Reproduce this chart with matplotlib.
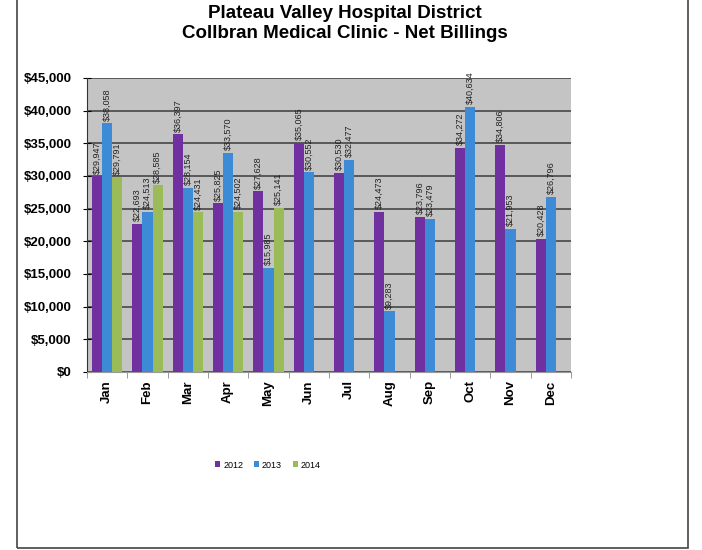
import matplotlib
matplotlib.use("Agg")
import matplotlib.pyplot as plt
from matplotlib.patches import Rectangle
from matplotlib.ticker import FuncFormatter, MultipleLocator
import numpy as np

plt.rcParams["font.family"] = ["Liberation Sans", "DejaVu Sans"]

# chart data
months = ["Jan", "Feb", "Mar", "Apr", "May", "Jun",
          "Jul", "Aug", "Sep", "Oct", "Nov", "Dec"]
years = ["2012", "2013", "2014"]
net_2012 = [29947, 22693, 36397, 25825, 27628, 35065,
            30530, 24473, 23796, 34272, 34806, 20428]
net_2013 = [38058, 24513, 28154, 33570, 15985, 30552,
            32477, 9283, 23479, 40634, 21953, 26796]
net_2014 = [29791, 28585, 24431, 24502, 25141]

colors = ["#7030A0", "#3D8AD6", "#9BBB59"]

fig = plt.figure(figsize=(7.02, 5.5), dpi=100)
ax = fig.add_axes([87 / 702, 1 - 372 / 550, 484 / 702, 294 / 550])
ax.set_facecolor("#C4C4C4")

x = np.arange(len(months))
width = 0.25
series = [net_2012, net_2013, net_2014]
for i, (vals, col, yr) in enumerate(zip(series, colors, years)):
    pos = x[: len(vals)] + (i - 1) * width
    bars = ax.bar(pos, vals, width, color=col, label=yr, zorder=3)
    for b, v in zip(bars, vals):
        ax.text(b.get_x() + b.get_width() / 2, v + 400, f"${v:,}",
                rotation=90, ha="center", va="bottom", fontsize=6.5,
                color="#222222", zorder=4)

ax.set_xlim(-0.5, len(months) - 0.5)
ax.set_ylim(0, 45000)
ax.yaxis.set_major_locator(MultipleLocator(5000))
ax.yaxis.set_major_formatter(FuncFormatter(lambda v, p: f"${v:,.0f}"))
ax.grid(axis="y", color="#505050", linewidth=1.3, zorder=1)
ax.set_axisbelow(True)

ax.set_xticks(x)
ax.set_xticklabels(months, rotation=90, fontsize=9.5, fontweight="bold")
ax.set_xticks(np.arange(len(months) + 1) - 0.5, minor=True)
ax.tick_params(axis="x", which="major", length=0, pad=6)
ax.tick_params(axis="x", which="minor", length=4, color="#888888")
ax.tick_params(axis="y", direction="inout", length=6, labelsize=9.5, pad=8)
for lbl in ax.get_yticklabels():
    lbl.set_fontweight("bold")

for s in ["top", "right"]:
    ax.spines[s].set_visible(False)
ax.spines["bottom"].set_color("#999999")
ax.spines["left"].set_color("#333333")

fig.text(345 / 702, 1 - 13 / 550, "Plateau Valley Hospital District",
         ha="center", va="center", fontsize=13.5, fontweight="bold")
fig.text(345 / 702, 1 - 34 / 550, "Collbran Medical Clinic - Net Billings",
         ha="center", va="center", fontsize=13.5, fontweight="bold")

fig.legend(loc="center", bbox_to_anchor=(268 / 702, 1 - 465 / 550), ncol=3,
           frameon=False, fontsize=6.5, handlelength=0.6, handleheight=0.6,
           handletextpad=0.3, columnspacing=1.2)

# outer chart frame
fig.add_artist(Rectangle((17 / 702, 2 / 550), (688 - 17) / 702, 1.0,
                         transform=fig.transFigure, fill=False,
                         edgecolor="#444444", linewidth=1.2))

fig.savefig("out.png", dpi=100)
